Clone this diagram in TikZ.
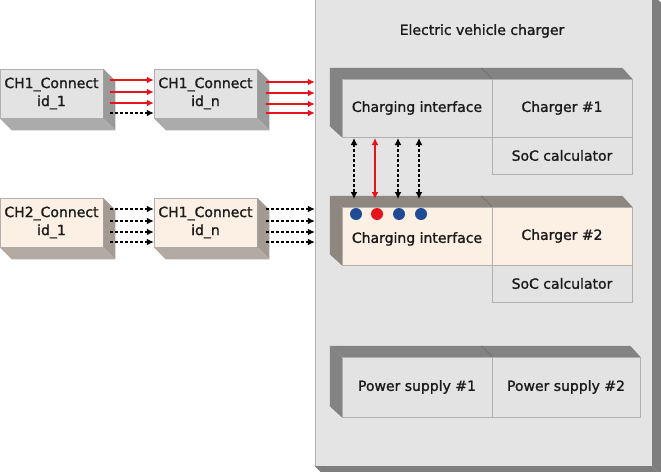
\documentclass[tikz,border=0pt]{standalone}
\usepackage{fontspec}
\setmainfont{DejaVu Sans}
\newfontfamily\semib[FakeBold=1.3]{DejaVu Sans}
\usetikzlibrary{arrows.meta,calc}
\definecolor{contfill}{HTML}{E4E4E4}
\definecolor{contedge}{HTML}{B4B4B4}
\definecolor{contside}{HTML}{7E7E7E}
\definecolor{greyfront}{HTML}{E3E3E3}
\definecolor{peachfront}{HTML}{FCEFE3}
\definecolor{boxedge}{HTML}{B0B0B0}
\definecolor{darkface}{HTML}{838383}
\definecolor{darkpeach}{HTML}{8E8780}
\definecolor{lside}{HTML}{9A9A9A}
\definecolor{lbottom}{HTML}{ABABAB}
\definecolor{lsidep}{HTML}{A39B93}
\definecolor{lbottomp}{HTML}{B3ABA3}
\definecolor{dotblue}{HTML}{1F4B96}
\definecolor{arred}{HTML}{E8141B}
\definecolor{txt}{HTML}{1A1A1A}
\newcommand\innerfaces[3]{%
  \fill[#3] (#1.north west) -- ++(-12,-11) -- ($(#1.south west)+(-12,-11)$) -- (#1.south west) -- cycle;
  \fill[#3] (#1.north west) -- ++(-12,-11) -- ($(#2.north east)+(-10,-11)$) -- (#2.north east) -- cycle;
  \draw[boxedge!60!black, line width=0.4pt] (#1.north east) -- ++(-11,-11);
}
\newcommand\outerfaces[3]{%
  \fill[#2] (#1.north east) -- ++(12,12) -- ($(#1.south east)+(12,12)$) -- (#1.south east) -- cycle;
  \fill[#3] (#1.south west) -- ++(12,12) -- ($(#1.south east)+(12,12)$) -- (#1.south east) -- cycle;
}
\begin{document}
\begin{tikzpicture}[x=1pt,y=-1pt,
  every node/.style={text=txt, font=\semib\fontsize{14}{18}\selectfont},
  lbox/.style={draw=boxedge, line width=0.5pt, minimum width=103pt, minimum height=49pt, inner sep=0pt, align=center},
  ibox/.style={draw=boxedge, line width=0.5pt, inner sep=0pt, align=center},
  redarr/.style={draw=arred, line width=1.8pt, -{Latex[length=7pt,width=7pt]}},
  blkarr/.style={draw=black, line width=1.6pt, dash pattern=on 3pt off 2pt, -{Latex[length=7pt,width=7pt]}},
  vblk/.style={draw=black, line width=1.6pt, dash pattern=on 3pt off 2pt, {Latex[length=7pt,width=7pt]}-{Latex[length=7pt,width=7pt]}},
  vred/.style={draw=arred, line width=1.8pt, {Latex[length=7pt,width=7pt]}-{Latex[length=7pt,width=7pt]}},
  pin/.style={circle, minimum size=12pt, inner sep=0pt},
]
\useasboundingbox (0,0) rectangle (661,471);
\fill[white] (0,0) rectangle (661,471);

% container
\node[draw=contedge, fill=contfill, minimum width=337pt, minimum height=472pt, inner sep=0pt] (evc) at (483.5,230) {};
\fill[contside] (evc.north east) -- ++(9,9) -- ($(evc.south east)+(9,9)$) -- (evc.south east) -- cycle;
\fill[contside] (evc.south west) -- ++(9,9) -- ($(evc.south east)+(9,9)$) -- (evc.south east) -- cycle;
\node (title) at (482,31) {Electric vehicle charger};

% charger 1
\node[ibox, fill=greyfront, minimum width=150pt, minimum height=58pt] (ci1) at (417,108) {Charging interface};
\node[ibox, fill=greyfront, minimum width=140pt, minimum height=58pt] (ch1) at (562,108) {Charger \#1};
\node[ibox, fill=greyfront, minimum width=140pt, minimum height=37pt] (soc1) at (562,155.5) {SoC calculator};
\innerfaces{ci1}{ch1}{darkface}

% charger 2
\node[ibox, fill=peachfront, minimum width=150pt, minimum height=58pt, text depth=0pt] (ci2) at (417,236) {\raisebox{-3pt}{Charging interface}};
\node[ibox, fill=peachfront, minimum width=140pt, minimum height=58pt] (ch2) at (562,236) {Charger \#2};
\node[ibox, fill=greyfront, minimum width=140pt, minimum height=37pt] (soc2) at (562,283.5) {SoC calculator};
\innerfaces{ci2}{ch2}{darkpeach}

% power supply
\node[ibox, fill=greyfront, minimum width=150pt, minimum height=60pt] (ps1) at (417,387) {Power supply \#1};
\node[ibox, fill=greyfront, minimum width=148pt, minimum height=60pt] (ps2) at (566,387) {Power supply \#2};
\innerfaces{ps1}{ps2}{darkface}

% pins
\node[pin, fill=dotblue] (p1) at (356,214) {};
\node[pin, fill=arred] (p2) at (377,214) {};
\node[pin, fill=dotblue] (p3) at (399,214) {};
\node[pin, fill=dotblue] (p4) at (421,214) {};

% vertical links
\coordinate (t1) at (354,138); \coordinate (b1) at (354,199);
\coordinate (t2) at (375,138); \coordinate (b2) at (375,199);
\coordinate (t3) at (398,138); \coordinate (b3) at (398,199);
\coordinate (t4) at (419,138); \coordinate (b4) at (419,199);
\draw[vblk] (t1) -- (b1);
\draw[vred] (t2) -- (b2);
\draw[vblk] (t3) -- (b3);
\draw[vblk] (t4) -- (b4);

% left boxes row 1
\node[lbox, fill=greyfront] (a1) at (51.5,93.5) {CH1\_Connect\\id\_1};
\outerfaces{a1}{lside}{lbottom}
\node[lbox, fill=greyfront] (a2) at (205.5,93.5) {CH1\_Connect\\id\_n};
\outerfaces{a2}{lside}{lbottom}

% left boxes row 2
\node[lbox, fill=peachfront] (c1) at (51.5,222.5) {CH2\_Connect\\id\_1};
\outerfaces{c1}{lsidep}{lbottomp}
\node[lbox, fill=peachfront] (c2) at (205.5,222.5) {CH1\_Connect\\id\_n};
\outerfaces{c2}{lsidep}{lbottomp}

% row 1 arrows
\foreach \y/\s in {80/redarr, 92/redarr, 103/redarr, 113/blkarr}{
  \draw[\s] (a1.east |- 0,\y) ++(7,0) -- (a2.west |- 0,\y);
}
\foreach \y in {82,93,104,113}{
  \draw[redarr] (a2.east |- 0,\y) ++(9,0) -- (evc.west |- 0,\y);
}
% row 2 arrows
\foreach \y in {209,221,232,242}{
  \draw[blkarr] (c1.east |- 0,\y) ++(7,0) -- (c2.west |- 0,\y);
  \draw[blkarr] (c2.east |- 0,\y) ++(9,0) -- (evc.west |- 0,\y);
}
\end{tikzpicture}
\end{document}
